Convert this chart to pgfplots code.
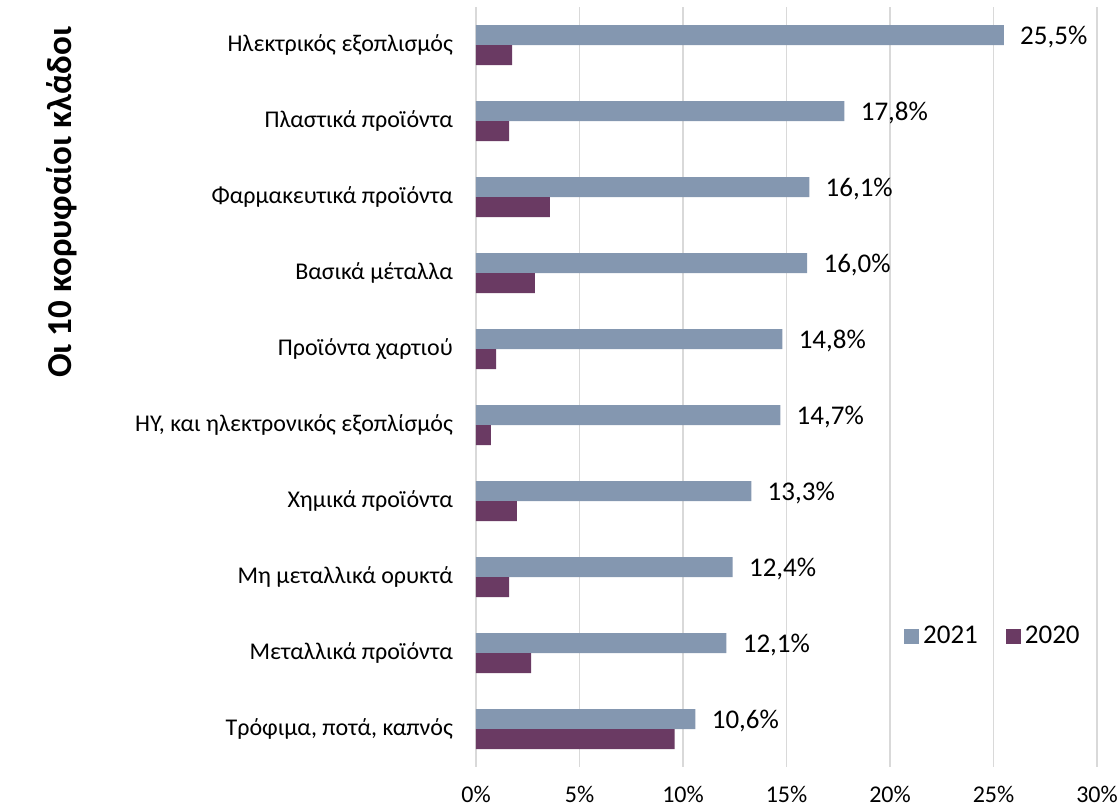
\documentclass[border=0pt]{standalone}
\usepackage{fontspec}
\setmainfont{Carlito}
\usepackage{pgfplots}
\pgfplotsset{compat=1.18}
\definecolor{c21}{HTML}{8497B0}
\definecolor{c20}{HTML}{6A3A63}
\definecolor{gridc}{HTML}{D9D9D9}
\begin{document}
\begin{tikzpicture}
\begin{axis}[
  name=ax,
  scale only axis, width=310.5pt, height=380pt,
  xbar=0pt, bar width=10pt,
  xmin=0, xmax=30, ymin=-0.5, ymax=9.5, y dir=reverse,
  ytick={0,...,9},
  yticklabels={Ηλεκτρικός εξοπλισμός, Πλαστικά προϊόντα, Φαρμακευτικά προϊόντα, Βασικά μέταλλα, Προϊόντα χαρτιού, {ΗΥ, και ηλεκτρονικός εξοπλίσμός}, Χημικά προϊόντα, Μη μεταλλικά ορυκτά, Μεταλλικά προϊόντα, {Τρόφιμα, ποτά, καπνός}},
  xtick={0,5,...,30},
  xticklabel={\pgfmathprintnumber[assume math mode=true]{\tick}\%},
  xmajorgrids, major grid style={gridc, line width=0.8pt},
  axis line style={draw=none}, major tick length=0pt,
  xticklabel style={font=\fontsize{12}{14}\selectfont, yshift=-6pt},
  yticklabel style={font=\fontsize{12}{14}\selectfont, xshift=-8pt},
  clip=false,
  legend style={at={(rel axis cs:0.834,0.172)}, anchor=center, draw=none, fill=none,
    font=\fontsize{13.5}{15}\selectfont, legend columns=2,
    /tikz/every even column/.append style={column sep=12pt}},
  legend image code/.code={\fill[#1] (0pt,-3.75pt) rectangle (7.5pt,3.75pt);},
]
\addplot[fill=c21, draw=none, bar shift=5pt,
  nodes near coords={\pgfmathprintnumber[fixed,fixed zerofill,precision=1,use comma,assume math mode=true]{\pgfplotspointmeta}\%},
  every node near coord/.append style={font=\fontsize{13.5}{15}\selectfont, anchor=west, inner sep=0pt, xshift=8pt, yshift=-1pt, text=black}]
  coordinates {(25.5,0) (17.8,1) (16.1,2) (16.0,3) (14.8,4) (14.7,5) (13.3,6) (12.4,7) (12.1,8) (10.6,9)};
\addplot[fill=c20, draw=none, bar shift=-5pt]
  coordinates {(1.75,0) (1.6,1) (3.57,2) (2.85,3) (0.97,4) (0.72,5) (1.97,6) (1.6,7) (2.66,8) (9.6,9)};
\legend{2021,2020}
\node[rotate=90, font=\bfseries\fontsize{17.5}{19}\selectfont] at (rel axis cs:-0.667,0.743) {Οι 10 κορυφαίοι κλάδοι};
\end{axis}
\pgfresetboundingbox
\path ([shift={(-238pt,-20.5pt)}]ax.south west) rectangle ([shift={(10.5pt,3.5pt)}]ax.north east);
\end{tikzpicture}
\end{document}
